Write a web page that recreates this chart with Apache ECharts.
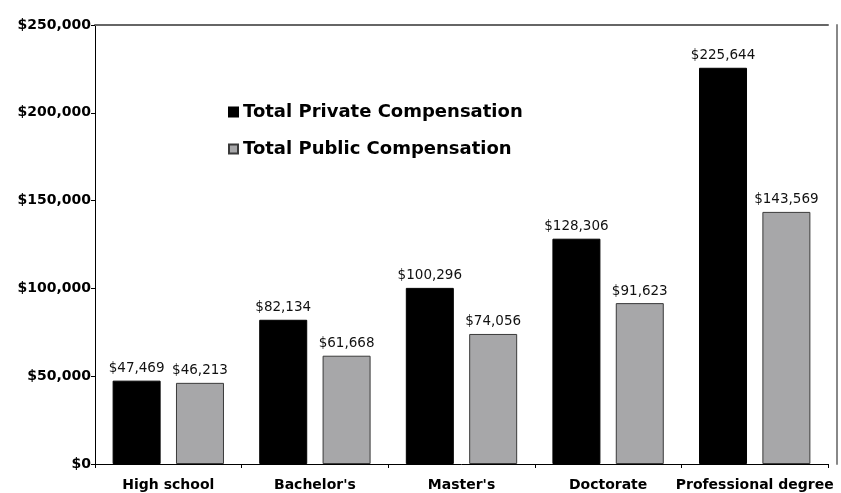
<!DOCTYPE html>
<html>
<head>
<meta charset="utf-8">
<script src="https://cdn.jsdelivr.net/npm/echarts@6/dist/echarts.min.js"></script>
<style>html,body{margin:0;padding:0;background:#fff}#c{width:841px;height:493px}</style>
</head>
<body>
<div id="c"></div>
<script>
const categories = ["High school", "Bachelor's", "Master's", "Doctorate", "Professional degree"];
const privateComp = [47469, 82134, 100296, 128306, 225644];
const publicComp = [46213, 61668, 74056, 91623, 143569];
const seriesNames = ["Total Private Compensation", "Total Public Compensation"];
const yTicks = [0, 50000, 100000, 150000, 200000, 250000];

const money = v => '$' + Math.round(v).toLocaleString('en-US');

const chart = echarts.init(document.getElementById('c'), null, {renderer: 'canvas'});
const labelCfg = {
  show: true, position: 'top', distance: 5,
  fontFamily: 'DejaVu Sans', fontSize: 13.5, color: '#111',
  formatter: p => money(p.value)
};
chart.setOption({
  animation: false,
  backgroundColor: '#fff',
  grid: {left: 95, right: 13, top: 25, bottom: 29, containLabel: false},
  legend: {
    data: seriesNames,
    orient: 'vertical', left: 223, top: 98,
    itemWidth: 9, itemHeight: 9, itemGap: 19,
    icon: 'rect',
    textStyle: {fontFamily: 'DejaVu Sans', fontWeight: 'bold', fontSize: 18, color: '#000'}
  },
  xAxis: [{
    type: 'category', data: categories, position: 'bottom',
    axisLine: {lineStyle: {color: '#000', width: 1}},
    axisTick: {show: true, length: 4, lineStyle: {color: '#000'}},
    axisLabel: {fontFamily: 'DejaVu Sans', fontWeight: 'bold', fontSize: 14, color: '#000', margin: 14, interval: 0}
  }, {
    type: 'category', data: categories, position: 'top',
    axisLine: {show: true, onZero: false, lineStyle: {color: '#666', width: 2}},
    axisTick: {show: false}, axisLabel: {show: false}
  }],
  yAxis: [{
    type: 'value', min: 0, max: 250000, interval: 50000,
    axisLine: {show: true, lineStyle: {color: '#000', width: 1}},
    axisTick: {show: true, length: 4, lineStyle: {color: '#000'}},
    splitLine: {show: false},
    axisLabel: {fontFamily: 'DejaVu Sans', fontWeight: 'bold', fontSize: 14, color: '#000', margin: 4,
      formatter: v => yTicks.includes(v) ? money(v) : ''}
  }, {
    type: 'value', min: 0, max: 250000, interval: 50000, position: 'right', offset: 9,
    axisLine: {show: true, onZero: false, lineStyle: {color: '#888', width: 2}},
    axisTick: {show: false}, axisLabel: {show: false}, splitLine: {show: false}
  }],
  series: [{
    name: seriesNames[0], type: 'bar', data: privateComp,
    barWidth: 48, barGap: '32%',
    itemStyle: {color: '#000', borderColor: '#000', borderWidth: 1},
    label: labelCfg
  }, {
    name: seriesNames[1], type: 'bar', data: publicComp,
    barWidth: 48, barGap: '32%',
    itemStyle: {color: '#a7a7a9', borderColor: '#3a3a3a', borderWidth: 1},
    label: labelCfg
  }]
});
</script>
</body>
</html>
